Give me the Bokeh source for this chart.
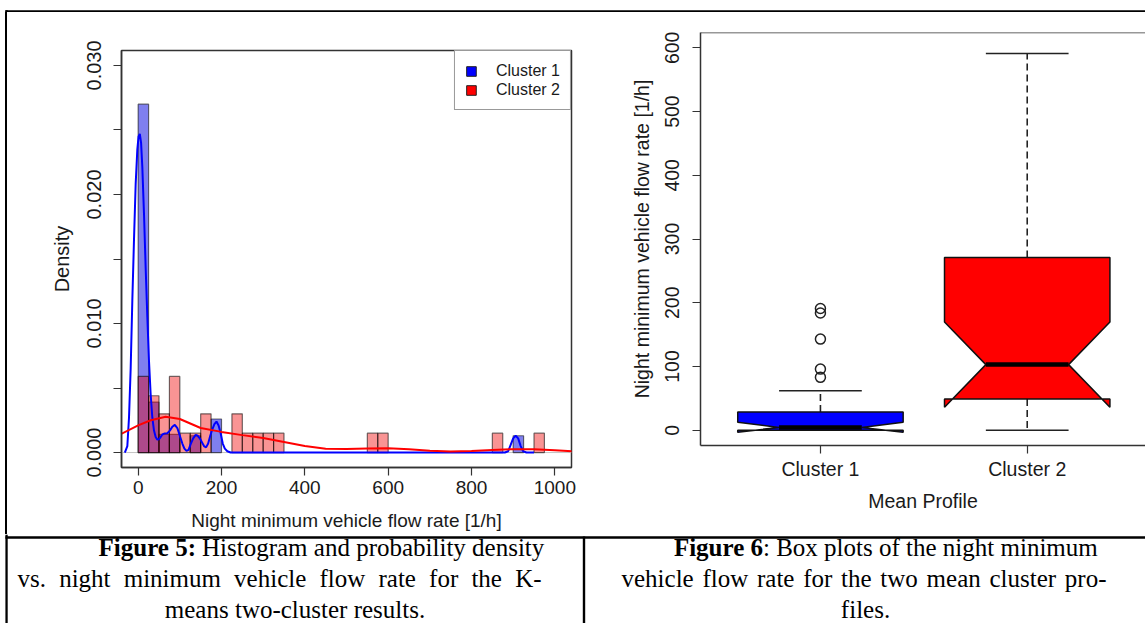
from bokeh.plotting import figure
from bokeh.layouts import column, row
from bokeh.models import (Range1d, FixedTicker, NumeralTickFormatter, Span, Legend,
                          LegendItem, BoxAnnotation, Spacer)
from bokeh.embed import file_html
from bokeh.resources import INLINE
from bokeh.core.properties import value

SANS = "Liberation Sans"
SERIF = "Liberation Serif"

# ---------------- Figure 5 data: histogram (density, bin width 25) ----------------
bin_width = 25
c1_bin_left = [0, 25, 50, 75, 125, 175, 900]
c1_density = [0.0270, 0.0039, 0.0014, 0.0014, 0.0013, 0.0026, 0.0013]
c2_bin_left = [0, 25, 50, 75, 100, 125, 150, 225, 250, 275, 300, 325, 550, 575, 850, 950]
c2_density = [0.0059, 0.0044, 0.0030, 0.0059, 0.0015, 0.0015, 0.0030, 0.0030,
              0.0015, 0.0015, 0.0015, 0.0015, 0.0015, 0.0015, 0.0015, 0.0015]

# kernel density curves
c1_kde_x = [-32, -26, -22, -18, -14, -10, -6, -2, 1, 4, 7, 10, 14, 18, 22, 26, 30, 34, 38, 42,
            46, 50, 54, 58, 64, 70, 76, 82, 88, 94, 100, 106, 111, 116, 121, 126, 132, 138,
            143, 148, 153, 158, 163, 168, 173, 178, 183, 188, 193, 198, 203, 208, 214, 222,
            240, 880, 888, 894, 900, 906, 912, 918, 924, 932, 950]
c1_kde_y = [0.0, 0.0005, 0.0027, 0.0065, 0.0118, 0.0165, 0.0208, 0.0235, 0.0245, 0.0247,
            0.0240, 0.0221, 0.0185, 0.0143, 0.0105, 0.0071, 0.0045, 0.0027, 0.0017, 0.0012,
            0.0010, 0.00103, 0.0012, 0.0014, 0.00148, 0.0015, 0.0017, 0.0020, 0.00214,
            0.0019, 0.0013, 0.0007, 0.0003, 0.00013, 0.0002, 0.00065, 0.0011, 0.00137,
            0.0013, 0.0011, 0.0008, 0.0005, 0.0004, 0.0007, 0.0013, 0.0018, 0.0022, 0.0024,
            0.0021, 0.0015, 0.0007, 0.0003, 0.0001, 0.0, 0.0, 0.0, 0.0001, 0.0006, 0.0011,
            0.0013, 0.0011, 0.0005, 0.0001, 0.0, 0.0]
c2_kde_x = [-42, 0, 30, 66, 100, 150, 200, 250, 300, 350, 400, 450, 500, 550, 600, 650,
            700, 750, 800, 850, 900, 950, 1000, 1042]
c2_kde_y = [0.00142, 0.0021, 0.0025, 0.00277, 0.0026, 0.0019, 0.0016, 0.00135, 0.00112,
            0.00082, 0.0005, 0.0003, 0.00028, 0.00032, 0.00033, 0.00025, 0.00013, 0.00008,
            0.00012, 0.0002, 0.00026, 0.00025, 0.00018, 0.0001]
hist_series = ["Cluster 1", "Cluster 2"]
x_ticks_hist = [0, 200, 400, 600, 800, 1000]
y_ticks_hist = [0.0, 0.010, 0.020, 0.030]
y_minor_hist = [0.005, 0.015, 0.025]

# ---------------- Figure 6 data: notched box plots ----------------
box_categories = ["Cluster 1", "Cluster 2"]
box_q1 = [0, 49]
box_median = [4.5, 103]
box_q3 = [28.5, 271]
box_notch_lo = [-3, 36]
box_notch_hi = [12.5, 170]
box_whisker_lo = [0, 0]
box_whisker_hi = [62, 591]
box_colors = ["#0000FF", "#FF0000"]
outlier_category = ["Cluster 1", "Cluster 1", "Cluster 1", "Cluster 1", "Cluster 1"]
outlier_values = [83, 96, 143, 184, 191]
y_ticks_box = [0, 100, 200, 300, 400, 500, 600]

captions_left = ["Figure 5:", "Histogram and probability density",
                 "vs. night minimum vehicle flow rate for the K-",
                 "means two-cluster results."]
captions_right = ["Figure 6", ": Box plots of the night minimum",
                  "vehicle flow rate for the two mean cluster pro-",
                  "files."]

AX = "#333333"
TXT = "#1a1a1a"


def common(**kw):
    return dict(output_backend="svg", toolbar_location=None, **kw)


def rule(p, l, r, t, b):
    """table rule drawn in canvas pixels of a full-frame strip figure"""
    p.add_layout(BoxAnnotation(left=l, right=r, top=t, bottom=b,
                               left_units="canvas", right_units="canvas",
                               top_units="canvas", bottom_units="canvas",
                               fill_color="black", fill_alpha=1.0, line_color=None,
                               level="overlay"))


def blank_fig(w, h):
    f = figure(width=w, height=h, x_axis_location=None, y_axis_location=None, min_border=0,
               outline_line_color=None, x_range=Range1d(0, w), y_range=Range1d(h, 0),
               **common())
    f.grid.visible = False
    return f


def style_axis(ax, size):
    ax.axis_label_text_font = SANS
    ax.axis_label_text_font_style = "normal"
    ax.axis_label_text_font_size = size
    ax.axis_label_text_color = TXT
    ax.major_label_text_font = SANS
    ax.major_label_text_font_size = size
    ax.major_label_text_color = TXT
    ax.major_tick_line_color = AX
    ax.major_tick_line_width = 1.2
    ax.major_tick_out = 8
    ax.major_tick_in = 0
    ax.minor_tick_line_color = AX
    ax.minor_tick_line_width = 1.2
    ax.minor_tick_out = 8
    ax.minor_tick_in = 0
    ax.axis_line_color = AX
    ax.axis_line_width = 1.5


# ---------------- table rule strip at the top ----------------
top_strip = blank_fig(1145, 12)
rule(top_strip, 4.9, 1145, 9.8, 12)
rule(top_strip, 4.9, 7.2, 9.8, 12)

# ---------------- Figure 5: histogram ----------------
p1 = figure(width=580, height=504, x_range=Range1d(-40, 1040),
            y_range=Range1d(-0.00116, 0.03116),
            min_border_left=121, min_border_right=9, min_border_top=20, min_border_bottom=67,
            outline_line_color=AX, outline_line_width=1.5, border_fill_color=None,
            **common())
p1.grid.visible = False
p1.add_layout(Span(location=0, dimension="width", line_color="#C4C4C4", line_width=1,
                   level="underlay"))
p1.quad(left=c1_bin_left, right=[b + bin_width for b in c1_bin_left], bottom=0,
        top=c1_density, fill_color="#0000E0", fill_alpha=0.5, line_color="black",
        line_alpha=0.55, line_width=1.2)
p1.quad(left=c2_bin_left, right=[b + bin_width for b in c2_bin_left], bottom=0,
        top=c2_density, fill_color="#F00000", fill_alpha=0.42, line_color="black",
        line_alpha=0.55, line_width=1.2)
p1.line(c1_kde_x, c1_kde_y, line_color="#0000FF", line_width=2)
p1.line(c2_kde_x, c2_kde_y, line_color="#FF0000", line_width=2)

p1.xaxis.ticker = FixedTicker(ticks=x_ticks_hist)
p1.yaxis.ticker = FixedTicker(ticks=y_ticks_hist, minor_ticks=y_minor_hist)
p1.yaxis.formatter = NumeralTickFormatter(format="0.000")
p1.xaxis.axis_label = "Night minimum vehicle flow rate [1/h]"
p1.yaxis.axis_label = "Density"
style_axis(p1.xaxis[0], "19px")
style_axis(p1.yaxis[0], "20px")
p1.xaxis.minor_tick_line_color = None
p1.yaxis.major_label_orientation = "vertical"
p1.xaxis.major_label_standoff = 5
p1.xaxis.axis_label_standoff = 13
p1.yaxis.major_label_standoff = 12
p1.yaxis.axis_label_standoff = 12

nan = float("nan")
leg_items = []
for name, col in zip(hist_series, ["#0000FF", "#FF0000"]):
    r = p1.quad(left=[nan], right=[nan], top=[nan], bottom=[nan], fill_color=col,
                line_color="#222222", line_width=1)
    leg_items.append(LegendItem(label=name, renderers=[r]))
legend = Legend(items=leg_items, location="top_right", margin=0, padding=10, spacing=0,
                label_height=19, glyph_height=12, glyph_width=12, label_standoff=19,
                label_text_font=SANS, label_text_font_size="16px", label_text_color=TXT,
                border_line_color="#333333", border_line_width=1.2,
                background_fill_color="white", background_fill_alpha=1.0)
p1.add_layout(legend)

# ---------------- Figure 6: box plots ----------------
p2 = figure(width=565, height=502, x_range=Range1d(0.42, 2.572), y_range=Range1d(-23.9, 624),
            min_border_left=120, min_border_right=0, min_border_top=20, min_border_bottom=67,
            outline_line_color=None, **common())
p2.grid.visible = False
p2.add_layout(Span(location=624, dimension="width", line_color=AX, line_width=1.5))

half_w = 0.4
notch_frac = 0.5
xs, ys, whisk_x, whisk_y0, whisk_y1, cap_x0, cap_x1, cap_y = [], [], [], [], [], [], [], []
med_x0, med_x1 = [], []
for i, cat in enumerate(box_categories):
    xc = i + 1
    xs.append([xc - half_w, xc + half_w, xc + half_w, xc + half_w * notch_frac,
               xc + half_w, xc + half_w, xc - half_w, xc - half_w,
               xc - half_w * notch_frac, xc - half_w])
    ys.append([box_q1[i], box_q1[i], box_notch_lo[i], box_median[i], box_notch_hi[i],
               box_q3[i], box_q3[i], box_notch_hi[i], box_median[i], box_notch_lo[i]])
    whisk_x += [xc, xc]
    whisk_y0 += [box_q3[i], box_q1[i]]
    whisk_y1 += [box_whisker_hi[i], box_whisker_lo[i]]
    cap_x0 += [xc - half_w / 2, xc - half_w / 2]
    cap_x1 += [xc + half_w / 2, xc + half_w / 2]
    cap_y += [box_whisker_hi[i], box_whisker_lo[i]]
    med_x0.append(xc - half_w * notch_frac)
    med_x1.append(xc + half_w * notch_frac)

p2.segment(x0=whisk_x, y0=whisk_y0, x1=whisk_x, y1=whisk_y1, line_color="#222222",
           line_width=1.6, line_dash="7 4")
p2.segment(x0=cap_x0, y0=cap_y, x1=cap_x1, y1=cap_y, line_color="#222222", line_width=1.6)
p2.patches(xs=xs, ys=ys, fill_color=box_colors, line_color="#111111", line_width=1.5)
p2.segment(x0=med_x0, y0=box_median, x1=med_x1, y1=box_median, line_color="black",
           line_width=4.5)
p2.scatter(x=[box_categories.index(c) + 1 for c in outlier_category], y=outlier_values,
           marker="circle", size=10, fill_color=None, line_color="#222222", line_width=1.5)

p2.xaxis.ticker = FixedTicker(ticks=[i + 1 for i in range(len(box_categories))])
p2.xaxis.major_label_overrides = {i + 1: c for i, c in enumerate(box_categories)}
p2.yaxis.ticker = FixedTicker(ticks=y_ticks_box)
p2.xaxis.axis_label = "Mean Profile"
p2.yaxis.axis_label = "Night minimum vehicle flow rate [1/h]"
style_axis(p2.xaxis[0], "19.5px")
style_axis(p2.yaxis[0], "19.5px")
p2.yaxis.major_label_orientation = "vertical"
p2.xaxis.major_label_standoff = 4
p2.xaxis.axis_label_standoff = 7
p2.yaxis.major_label_standoff = 13
p2.yaxis.axis_label_standoff = 10

# ---------------- captions ----------------
cap = blank_fig(1145, 89)
rule(cap, 4.9, 1145, 1.7, 4.3)
rule(cap, 4.9, 7.2, 0, 89)
rule(cap, 582.3, 584.7, 2, 89)

FS = 25
fs = "%dpx" % FS
CY = [13, 44, 75]   # caption baselines inside the caption strip

# Times-compatible advance widths (1/1000 em) used to justify the second caption lines
SERIF_W = {"a": 444, "b": 500, "c": 444, "d": 500, "e": 444, "f": 333, "g": 500, "h": 500,
           "i": 278, "k": 500, "l": 278, "m": 778, "n": 500, "o": 500, "p": 500, "r": 333,
           "s": 389, "t": 278, "u": 500, "v": 500, "w": 722, "y": 500, "K": 722, ".": 250,
           "-": 333}


def ctext(x, y, txt, align, bold=False):
    cap.text(x=[x], y=[y], text=[txt], text_font=value(SERIF),
             text_font_style="bold" if bold else "normal", text_font_size=fs,
             text_align=align, text_baseline="alphabetic", text_color="black")


def justified(line, x0, x1, y):
    words = line.split(" ")
    widths = [sum(SERIF_W.get(ch, 500) for ch in w) / 1000.0 * FS for w in words]
    gap = (x1 - x0 - sum(widths)) / (len(words) - 1)
    x = x0
    for w, wd in zip(words, widths):
        ctext(x, y, w, "left")
        x += wd + gap


ctext(195.5, CY[0], captions_left[0], "right", bold=True)
ctext(201.5, CY[0], captions_left[1], "left")
justified(captions_left[2], 17, 541, CY[1])
ctext(294.5, CY[2], captions_left[3], "center")
ctext(762.5, CY[0], captions_right[0], "right", bold=True)
ctext(762.5, CY[0], captions_right[1], "left")
justified(captions_right[2], 621, 1106, CY[1])
ctext(865, CY[2], captions_right[3], "center")

# the table's left rule behind the left chart cell (figure borders are transparent)
left_cell = column(Spacer(width=580, height=18), p1,
                   styles={"background": "linear-gradient(90deg, #ffffff 0px, #ffffff 4.9px, "
                                         "#000000 4.9px, #000000 7.2px, #ffffff 7.2px)"})
layout = column(top_strip,
                row(left_cell, column(p2, Spacer(width=565, height=20))),
                cap)
open("out.html", "w").write(file_html(layout, INLINE))
